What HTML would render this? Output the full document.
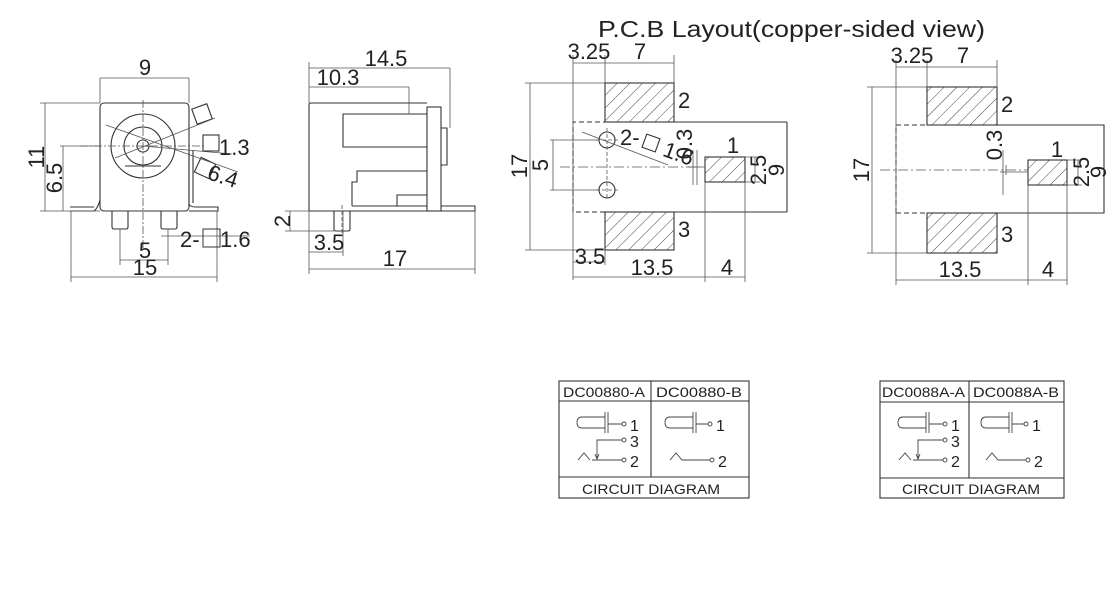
<!DOCTYPE html>
<html><head><meta charset="utf-8"><style>
html,body{margin:0;padding:0;background:#fff;}
svg{display:block;}
text{font-family:"Liberation Sans",Arial,sans-serif;fill:#222;}
</style></head><body>
<svg width="1120" height="590" viewBox="0 0 1120 590" xmlns="http://www.w3.org/2000/svg">
<defs>
<pattern id="h" patternUnits="userSpaceOnUse" width="9" height="9" patternTransform="rotate(45)">
<rect width="9" height="9" fill="#fff"/><line x1="0" y1="0" x2="0" y2="9" stroke="#444" stroke-width="1"/>
</pattern>
</defs>
<g fill="none" stroke="#333" stroke-width="1.1">
<rect x="100" y="103" width="89" height="108" rx="4"/>
<circle cx="143" cy="146" r="32"/>
<circle cx="143" cy="146" r="19"/>
<circle cx="143" cy="146" r="6"/>
<line x1="125" y1="166" x2="161" y2="166"/>
<path d="M70 211 L94 211 Q98 208 100 200 M70 207 L94 207"/>
<path d="M189 150 L189 204 Q190 207 196 207 L218 207 L218 211 L189 211 M193 150 L193 203"/>
<path d="M112 211 L112 227 Q112 229 114 229 L126 229 Q128 229 128 227 L128 211"/>
<path d="M161 211 L161 227 Q161 229 163 229 L175 229 Q177 229 177 227 L177 211"/>
<rect x="194" y="106" width="16" height="16" transform="rotate(-20 202 114)"/>
<rect x="203" y="135" width="16" height="16"/>
<rect x="197" y="160" width="16" height="16" transform="rotate(25 205 168)"/>
<path d="M309 211 L309 105 Q309 103 311 103 L427 103"/>
<path d="M427 114 L343 114 L343 147 L427 147"/>
<rect x="427" y="107" width="14" height="104"/>
<path d="M441 128 L447 128 L447 165 L441 165"/>
<path d="M352 206 L352 182 L357 182 L357 171 L427 171"/>
<path d="M397 206 L397 195 L427 195"/>
<path d="M352 206 L427 206 M441 206 L475 206 L475 211 L309 211"/>
<path d="M334 211 L334 229 Q334 231 336 231 L348 231 Q350 231 350 229 L350 211"/>
<rect x="605" y="83" width="69" height="39" fill="url(#h)"/>
<rect x="605" y="212" width="69" height="38" fill="url(#h)"/>
<rect x="705" y="157" width="40" height="25" fill="url(#h)"/>
<path d="M573 212 L573 122 L605 122 M605 212 L573 212" stroke-dasharray="5,3"/>
<line x1="674" y1="122" x2="787" y2="122"/><line x1="787" y1="122" x2="787" y2="212"/><line x1="674" y1="212" x2="787" y2="212"/>
<circle cx="607" cy="140" r="8"/>
<circle cx="607" cy="190" r="8"/>
<rect x="644" y="136" width="14" height="14" transform="rotate(20 651 143)"/>
<rect x="927" y="87" width="70" height="38" fill="url(#h)"/>
<rect x="927" y="213" width="70" height="40" fill="url(#h)"/>
<rect x="1028" y="160" width="39" height="25" fill="url(#h)"/>
<path d="M896 213 L896 125 L927 125 M896 213 L927 213" stroke-dasharray="5,3"/>
<path d="M997 125 L1104 125 L1104 213 L997 213"/>
<rect x="559" y="381" width="190" height="117"/>
<line x1="559" y1="401" x2="749" y2="401"/><line x1="559" y1="477" x2="749" y2="477"/><line x1="651" y1="381" x2="651" y2="477"/>
<rect x="880" y="381" width="184" height="117"/>
<line x1="880" y1="402" x2="1064" y2="402"/><line x1="880" y1="478" x2="1064" y2="478"/><line x1="969" y1="381" x2="969" y2="478"/>
</g>
<g fill="none" stroke="#555" stroke-width="0.8">
<path d="M100 78 L189 78 M100 78 L100 103 M189 78 L189 103"/>
<path d="M40 103 L100 103 M45 103 L45 211 M40 211 L100 211 M63 146 L63 211 M60 146 L100 146"/>
<path d="M143 100 L143 250 M80 146 L205 146" stroke-dasharray="8,2,2,2"/>
<path d="M106 125 L238 172 M115 158 L215 118 M143 146 L232 154"/>
<path d="M120 229 L120 265 M168 229 L168 265 M120 260 L168 260 M71 211 L71 282 M217 211 L217 282 M71 277 L217 277 M177 236 L250 236 M161 236 L177 236"/>
<path d="M309 68 L450 68 M450 68 L450 128 M309 62 L309 103 M309 87 L409 87 M409 87 L409 114"/>
<path d="M285 211 L309 211 M285 231 L334 231 M290 211 L290 231 M343 211 L343 256 M309 211 L309 274 M309 252 L343 252 M475 211 L475 274 M309 269 L475 269"/>
<path d="M342 205 L342 235" stroke-dasharray="4,2"/>
<path d="M573 55 L573 280 M605 55 L605 83 M674 55 L674 83 M573 63 L674 63"/>
<path d="M525 83 L605 83 M525 250 L605 250 M530 83 L530 250 M550 140 L600 140 M550 190 L600 190 M553 140 L553 190"/>
<path d="M560 167 L700 167" stroke-dasharray="10,3,2,3"/>
<path d="M607 128 L607 200 M596 140 L618 140 M596 190 L618 190" stroke-dasharray="4,2"/>
<path d="M582 132 L668 165 M693 150 L693 185 M697 150 L697 185 M688 167 L705 167"/>
<path d="M705 182 L705 282 M745 182 L745 282 M573 277 L745 277 M745 157 L760 157 M745 182 L760 182 M755 157 L755 182"/>
<path d="M573 262 L605 262 M605 250 L605 265"/>
<path d="M896 60 L896 285 M927 60 L927 87 M997 60 L997 87 M896 67 L997 67"/>
<path d="M867 87 L927 87 M867 253 L927 253 M872 87 L872 253 M1028 185 L1028 285 M1067 185 L1067 285 M896 280 L1067 280 M1067 160 L1082 160 M1067 185 L1082 185 M1078 160 L1078 185"/>
<path d="M880 170 L1028 170" stroke-dasharray="10,3,2,3"/>
<path d="M1003 150 L1003 195 M1006 165 L1006 175 M1000 172 L1028 172"/>
</g>
<g fill="none" stroke="#444" stroke-width="0.9">
<g>
<path d="M605 417 L582 417 Q577 417 577 422.5 Q577 428 582 428 L605 428 M605 412 L605 433 M608 412 L608 433 M608 424 L622 424"/>
<circle cx="624" cy="424" r="2"/>
<circle cx="624" cy="440" r="2"/><circle cx="624" cy="460" r="2"/>
<path d="M622 440 L597 440 L597 458 M595 454 L597 459 L599 454 M578 460 L584 453 L590 460 M592 460 L622 460"/>
</g>
<g>
<path d="M693 417 L670 417 Q665 417 665 422.5 Q665 428 670 428 L693 428 M693 412 L693 433 M696 412 L696 433 M696 424 L708 424"/>
<circle cx="710" cy="424" r="2"/><circle cx="712" cy="460" r="2"/>
<path d="M670 460 L676 453 L682 460 L710 460"/>
</g>
<g transform="translate(321,0)">
<path d="M605 417 L582 417 Q577 417 577 422.5 Q577 428 582 428 L605 428 M605 412 L605 433 M608 412 L608 433 M608 424 L622 424"/>
<circle cx="624" cy="424" r="2"/>
<circle cx="624" cy="440" r="2"/><circle cx="624" cy="460" r="2"/>
<path d="M622 440 L597 440 L597 458 M595 454 L597 459 L599 454 M578 460 L584 453 L590 460 M592 460 L622 460"/>
</g>
<g transform="translate(316,0)">
<path d="M693 417 L670 417 Q665 417 665 422.5 Q665 428 670 428 L693 428 M693 412 L693 433 M696 412 L696 433 M696 424 L708 424"/>
<circle cx="710" cy="424" r="2"/><circle cx="712" cy="460" r="2"/>
<path d="M670 460 L676 453 L682 460 L710 460"/>
</g>
</g>
<g font-size="22">
<text x="598" y="37" font-size="23" textLength="387" lengthAdjust="spacingAndGlyphs">P.C.B Layout(copper-sided view)</text>
<text x="145" y="75" text-anchor="middle">9</text>
<text transform="translate(44,157) rotate(-90)" text-anchor="middle">11</text>
<text transform="translate(62,178) rotate(-90)" text-anchor="middle">6.5</text>
<text x="219" y="155">1.3</text>
<text x="207" y="183" transform="rotate(18 220 178)">6.4</text>
<text x="180" y="247">2-</text>
<rect x="203" y="229" width="17" height="18" fill="none" stroke="#333"/>
<text x="220" y="247">1.6</text>
<text x="145" y="258" text-anchor="middle">5</text>
<text x="145" y="275" text-anchor="middle">15</text>
<text x="386" y="66" text-anchor="middle">14.5</text>
<text x="338" y="85" text-anchor="middle">10.3</text>
<text transform="translate(290,221) rotate(-90)" text-anchor="middle">2</text>
<text x="329" y="250" text-anchor="middle">3.5</text>
<text x="395" y="266" text-anchor="middle">17</text>
<text x="589" y="59" text-anchor="middle">3.25</text>
<text x="640" y="59" text-anchor="middle">7</text>
<text x="678" y="108">2</text>
<text x="678" y="237">3</text>
<text x="733" y="153" text-anchor="middle">1</text>
<text transform="translate(527,166) rotate(-90)" text-anchor="middle">17</text>
<text transform="translate(548,165) rotate(-90)" text-anchor="middle">5</text>
<text x="620" y="145">2-</text>
<text x="664" y="158" transform="rotate(20 670 150)">1.6</text>
<text transform="translate(692,144) rotate(-90)" text-anchor="middle">0.3</text>
<text transform="translate(766,170) rotate(-90)" text-anchor="middle">2.5</text>
<text transform="translate(784,170) rotate(-90)" text-anchor="middle">9</text>
<text x="590" y="264" text-anchor="middle">3.5</text>
<text x="652" y="275" text-anchor="middle">13.5</text>
<text x="727" y="275" text-anchor="middle">4</text>
<text x="912" y="63" text-anchor="middle">3.25</text>
<text x="963" y="63" text-anchor="middle">7</text>
<text x="1001" y="112">2</text>
<text x="1001" y="242">3</text>
<text x="1057" y="157" text-anchor="middle">1</text>
<text transform="translate(869,170) rotate(-90)" text-anchor="middle">17</text>
<text transform="translate(1002,145) rotate(-90)" text-anchor="middle">0.3</text>
<text transform="translate(1089,172) rotate(-90)" text-anchor="middle">2.5</text>
<text transform="translate(1106,172) rotate(-90)" text-anchor="middle">9</text>
<text x="960" y="277" text-anchor="middle">13.5</text>
<text x="1048" y="277" text-anchor="middle">4</text>
</g>
<g font-size="14">
<text x="563" y="397" textLength="82" lengthAdjust="spacingAndGlyphs">DC00880-A</text>
<text x="656" y="397" textLength="86" lengthAdjust="spacingAndGlyphs">DC00880-B</text>
<text x="582" y="494" textLength="138" lengthAdjust="spacingAndGlyphs">CIRCUIT DIAGRAM</text>
<text x="882" y="397" textLength="83" lengthAdjust="spacingAndGlyphs">DC0088A-A</text>
<text x="973" y="397" textLength="86" lengthAdjust="spacingAndGlyphs">DC0088A-B</text>
<text x="902" y="494" textLength="138" lengthAdjust="spacingAndGlyphs">CIRCUIT DIAGRAM</text>
</g>
<g font-size="16">
<text x="630" y="431">1</text><text x="630" y="447">3</text><text x="630" y="467">2</text>
<text x="716" y="431">1</text><text x="718" y="467">2</text>
<text x="951" y="431">1</text><text x="951" y="447">3</text><text x="951" y="467">2</text>
<text x="1032" y="431">1</text><text x="1034" y="467">2</text>
</g>
</svg>
</body></html>
